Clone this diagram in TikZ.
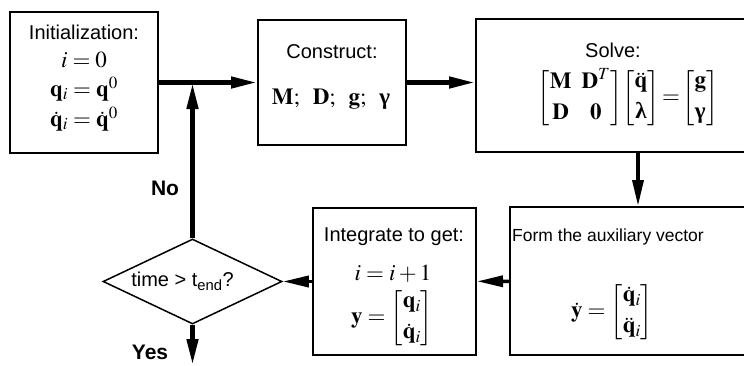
\documentclass[tikz,border=0pt]{standalone}
\usepackage{amsmath}
\usepackage{mathptmx}
\usepackage[no-math]{fontspec}
\setsansfont{Liberation Sans}
\newfontfamily\grkfont{Liberation Serif}
\newcommand{\bgr}[1]{\text{\grkfont\bfseries #1}}
\usetikzlibrary{shapes.geometric,arrows.meta}

\begin{document}
\begin{tikzpicture}[x=1pt, y=-1pt, >={Triangle[length=26pt,width=11pt]},
        box/.style={draw, rectangle, line width=2pt, inner sep=0pt},
        lbl/.style={font=\sffamily\fontsize{20}{24}\selectfont},
        eqn/.style={font=\fontsize{23}{27}\selectfont},
        yesno/.style={font=\sffamily\bfseries\fontsize{21}{24}\selectfont},
        flow/.style={->, line width=4.5pt},
        thin flow/.style={->, line width=3.5pt}]
        \useasboundingbox (0,0) rectangle (744,365);
        \clip (0,0) rectangle (744,365);
        \node[box, minimum width=148pt, minimum height=141pt] (init) at (84,82.5) {};
        \node[box, minimum width=148pt, minimum height=125pt] (construct) at (332,82.5) {};
        \node[box, minimum width=324pt, minimum height=133pt] (solve) at (638,85.5) {};
        \node[box, minimum width=256pt, minimum height=148pt] (form) at (638,281) {};
        \node[box, minimum width=163pt, minimum height=147pt] (integ) at (394.5,281.5) {};
        \node[draw, diamond, aspect=2.1, line width=1.5pt, inner sep=0pt, minimum width=179pt, minimum height=85pt, lbl] (check) at (192.5,281.5) {time > t\textsubscript{end}?\hspace*{20pt}};
        \coordinate (join) at (192.5,83);
        \coordinate (out) at (192.5,365);

        \node[lbl] (inittitle) at (84,32) {Initialization:};
        \node[eqn] (i0) at (84,60) {$i=0$};
        \node[eqn] (q0) at (84,89) {$\mathbf{q}_i=\mathbf{q}^0$};
        \node[eqn] (dq0) at (84,119) {$\dot{\mathbf{q}}_i=\dot{\mathbf{q}}^0$};
        \node[lbl] (constitle) at (332,52) {Construct:};
        \node[eqn] (mdg) at (331,99) {$\mathbf{M};\;\;\mathbf{D};\;\;\mathbf{g};\;\;\bgr{γ}$};
        \node[lbl] (solvetitle) at (613,50) {Solve:};
        \node[eqn] (system) at (628,98) {$\begin{bmatrix}\mathbf{M}&\mathbf{D}^T\\[4pt]\mathbf{D}&\mathbf{0}\end{bmatrix}\!\begin{bmatrix}\ddot{\mathbf{q}}\\[4pt]\bgr{λ}\end{bmatrix}\!=\!\begin{bmatrix}\mathbf{g}\\[4pt]\bgr{γ}\end{bmatrix}$};
        \node[lbl, font=\sffamily\fontsize{17.5}{20}\selectfont] (formtitle) at (608,237) {Form the auxiliary vector};
        \node[eqn] (ydot) at (612,312) {$\dot{\mathbf{y}}=\begin{bmatrix}\dot{\mathbf{q}}_i\\[4pt]\ddot{\mathbf{q}}_i\end{bmatrix}$};
        \node[lbl] (integtitle) at (394,237) {Integrate to get:};
        \node[eqn] (incr) at (393,274) {$i=i+1$};
        \node[eqn] (yvec) at (392,318) {$\mathbf{y}=\begin{bmatrix}\mathbf{q}_i\\[4pt]\dot{\mathbf{q}}_i\end{bmatrix}$};
        \node[yesno] (no) at (165,188) {No};
        \node[yesno] (yes) at (150,352) {Yes};

        \draw[flow] (init) -- (construct);
        \draw[flow] (construct.east) -- (construct.east -| solve.west);
        \draw[thin flow] (solve) -- (form);
        \draw[thin flow] (form) -- (integ);
        \draw[thin flow] (integ) -- (check);
        \draw[flow] (check) -- (join);
        \draw[flow] (check) -- (out);
\end{tikzpicture}
\end{document}
